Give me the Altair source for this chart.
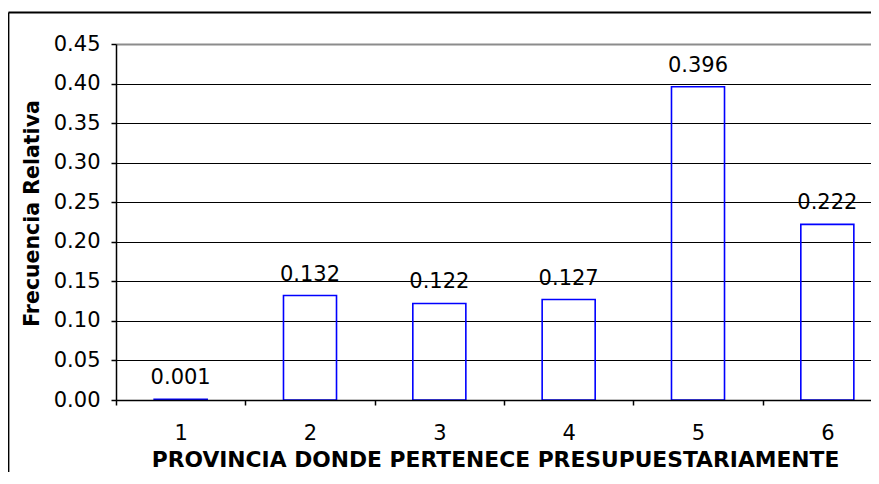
import altair as alt
import pandas as pd

provincias = ["1", "2", "3", "4", "5", "6"]
frecuencias = [0.001, 0.132, 0.122, 0.127, 0.396, 0.222]
y_ticks = [0.00, 0.05, 0.10, 0.15, 0.20, 0.25, 0.30, 0.35, 0.40, 0.45]

df = pd.DataFrame({"provincia": provincias, "frecuencia": frecuencias})

FONT = "DejaVu Sans"

x_enc = alt.X(
    "provincia:N",
    sort=provincias,
    scale=alt.Scale(domain=provincias, range=[0, 776], paddingInner=0, paddingOuter=0),
    axis=alt.Axis(
        title="PROVINCIA DONDE PERTENECE PRESUPUESTARIAMENTE",
        labelAngle=0,
        tickBand="extent",
        tickSize=5,
        tickColor="black",
        tickWidth=1.5,
        domainColor="black",
        domainWidth=1.5,
        labelFont=FONT,
        labelFontSize=21,
        labelColor="black",
        labelBaseline="alphabetic",
        labelPadding=34,
        grid=False,
        zindex=1,
        titleFont=FONT,
        titleFontSize=21.8,
        titleFontWeight="bold",
        titleColor="black",
        titleX=379,
        titleY=66,
        titleAlign="center",
        titleBaseline="alphabetic",
    ),
)

y_enc = alt.Y(
    "frecuencia:Q",
    scale=alt.Scale(domain=[0, 0.45], nice=False, zero=True),
    axis=alt.Axis(
        title="Frecuencia Relativa",
        values=y_ticks,
        format=".2f",
        labelOverlap=False,
        tickSize=5,
        tickColor="black",
        tickWidth=1.5,
        domainColor="black",
        domainWidth=1.5,
        labelFont=FONT,
        labelFontSize=21,
        labelColor="black",
        labelPadding=11,
        grid=True,
        gridColor={"condition": {"test": "datum.value >= 0.449", "value": "#8c8c8c"}, "value": "black"},
        gridWidth={"condition": {"test": "datum.value >= 0.449", "value": 2}, "value": 1.2},
        gridOpacity=1,
        titleFont=FONT,
        titleFontSize=20.5,
        titleFontWeight="bold",
        titleColor="black",
        titleAngle=270,
        titleX=-78,
        titleY=169,
        titleAlign="center",
        titleBaseline="alphabetic",
    ),
)

base = alt.Chart(df).encode(x=x_enc, y=y_enc)

bars = base.mark_bar(
    fill="white",
    fillOpacity=0,
    stroke="#0000ff",
    strokeWidth=1.6,
    width=alt.RelativeBandSize(0.41),
)

labels = base.mark_text(
    font=FONT,
    fontSize=21,
    color="black",
    baseline="alphabetic",
    dy=-15,
).encode(text=alt.Text("frecuencia:Q", format=".3f"))

frame_data = alt.Data(values=[{"k": 0}])
frame_left = alt.Chart(frame_data).mark_rule(color="black", strokeWidth=1.8).encode(
    x=alt.value(-107.5), y=alt.value(-31.5), y2=alt.value(600)
)
frame_top = alt.Chart(frame_data).mark_rule(color="black", strokeWidth=1.8).encode(
    x=alt.value(-107.5), x2=alt.value(1000), y=alt.value(-31.5)
)

chart = alt.layer(bars, labels, frame_left, frame_top).properties(
    width=755,
    height=356,
    autosize=alt.AutoSizeParams(type="none"),
    padding={"left": 108, "top": 36, "right": 0, "bottom": 72},
    background="white",
).configure_view(stroke=None)

chart.save("out.html", embed_options={"renderer": "svg", "actions": False})
